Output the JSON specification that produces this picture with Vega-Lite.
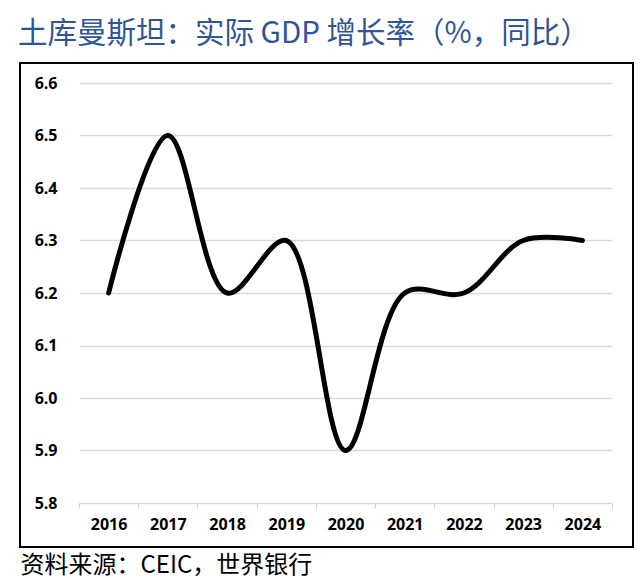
{
  "$schema": "https://vega.github.io/schema/vega-lite/v6.json",
  "width": 613,
  "height": 484,
  "autosize": "none",
  "padding": {"left": 20, "top": 63, "right": 11, "bottom": 31},
  "background": "white",
  "title": {
    "text": "土库曼斯坦：实际 GDP 增长率（%，同比）",
    "anchor": "start",
    "frame": "group",
    "font": "Noto Sans CJK SC",
    "fontSize": 29.5,
    "fontWeight": "normal",
    "color": "#2f5597",
    "baseline": "alphabetic",
    "offset": 18,
    "dx": -2,
    "dy": 27
  },
  "data": {
    "values": [
      {"year": "2016", "growth": 6.2},
      {"year": "2017", "growth": 6.5},
      {"year": "2018", "growth": 6.2},
      {"year": "2019", "growth": 6.3},
      {"year": "2020", "growth": 5.9},
      {"year": "2021", "growth": 6.2},
      {"year": "2022", "growth": 6.2},
      {"year": "2023", "growth": 6.3},
      {"year": "2024", "growth": 6.3}
    ]
  },
  "mark": {
    "type": "line",
    "interpolate": "catmull-rom",
    "color": "black",
    "strokeWidth": 5,
    "strokeCap": "round",
    "strokeJoin": "round"
  },
  "encoding": {
    "x": {
      "field": "year",
      "type": "ordinal",
      "bandPosition": 0.5,
      "scale": {"type": "band", "range": [59, 592], "paddingInner": 0, "paddingOuter": 0},
      "axis": {
        "title": "资料来源：CEIC，世界银行",
        "titleFont": "Noto Sans CJK SC",
        "titleFontSize": 24,
        "titleFontWeight": "normal",
        "titleColor": "black",
        "titleX": 0,
        "titleY": 69,
        "titleAlign": "left",
        "titleBaseline": "alphabetic",
        "offset": -44,
        "labelAngle": 0,
        "labelFont": "Open Sans",
        "labelFontSize": 16,
        "labelFontWeight": "bold",
        "labelColor": "black",
        "labelPadding": 8,
        "tickBand": "extent",
        "tickSize": 5,
        "tickColor": "#d0d0d0",
        "domainColor": "#d9d9d9",
        "grid": false
      }
    },
    "y": {
      "field": "growth",
      "type": "quantitative",
      "scale": {"domain": [5.8, 6.6], "range": [440, 20], "nice": false, "zero": false},
      "axis": {
        "title": null,
        "values": [5.8, 5.9, 6.0, 6.1, 6.2, 6.3, 6.4, 6.5, 6.6],
        "format": ".1f",
        "offset": -59,
        "domain": false,
        "ticks": false,
        "labelPadding": 22,
        "labelFont": "Open Sans",
        "labelFontSize": 16,
        "labelFontWeight": "bold",
        "labelColor": "black",
        "grid": true,
        "gridColor": "#d9d9d9",
        "gridWidth": 1.5
      }
    }
  },
  "config": {
    "view": {"stroke": "black", "strokeWidth": 2}
  }
}
